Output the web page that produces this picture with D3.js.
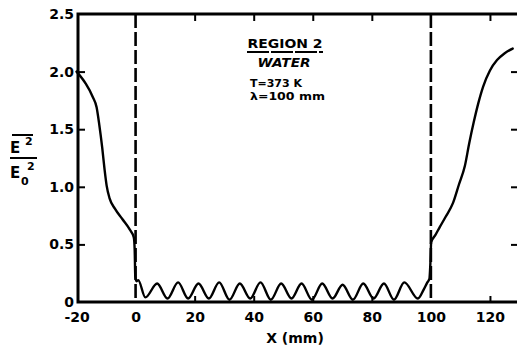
<!DOCTYPE html>
<html>
<head>
<meta charset="utf-8">
<script src="https://cdn.jsdelivr.net/npm/d3@7"></script>
<style>
  html, body { margin: 0; padding: 0; background: #fff; }
  svg { display: block; }
  text { font-family: "DejaVu Sans", sans-serif; font-weight: bold; fill: #000; }
</style>
</head>
<body>
<svg id="chart" width="517" height="348"></svg>
<script>
// Normalised field intensity |E|^2/|E0|^2 along x (mm)
const curveX = [
  -20, -17, -14.5, -13.2, -12.3, -11.3, -10.5, -9.8, -8.8, -7, -4.5, -2, -0.6,
  -0.3, -0.1, 0.3, 0.9, 3.3,
  7.3, 10.8, 14.4, 17.8, 21.3, 24.8, 28.3, 31.8, 35.3, 38.8, 42.3, 45.8, 49.3, 52.8, 56.2, 59.7,
  63.2, 66.7, 70.1, 73.6, 77.1, 80.6, 84.1, 87.5, 91.0, 95.6,
  97.6, 98.8, 99.5, 99.8, 100.1, 101.5, 103, 105, 107.5, 109.5, 111.5, 113, 114.5, 116, 117.7,
  120, 122.4, 125, 127.7
];
const curveY = [
  2.00, 1.90, 1.78, 1.69, 1.54, 1.34, 1.15, 1.01, 0.90, 0.81, 0.72, 0.63, 0.56,
  0.45, 0.22, 0.18, 0.19, 0.04,
  0.16, 0.03, 0.17, 0.03, 0.16, 0.03, 0.17, 0.02, 0.16, 0.03, 0.17, 0.02, 0.16, 0.03, 0.16, 0.02,
  0.16, 0.03, 0.15, 0.02, 0.16, 0.03, 0.16, 0.02, 0.17, 0.03,
  0.11, 0.17, 0.20, 0.32, 0.52, 0.58, 0.65, 0.74, 0.86, 1.02, 1.18, 1.38, 1.56, 1.72, 1.87,
  2.01, 2.10, 2.16, 2.20
];
const boundaries = [0, 100];                 // dashed interfaces
const xTickValues = [-20, 0, 20, 40, 60, 80, 100, 120];
const xTickMarks = [20, 40, 60, 80, 120];
const yTickValues = [0, 0.5, 1.0, 1.5, 2.0, 2.5];
const yTickLabels = ["0", "0.5", "1.0", "1.5", "2.0", "2.5"];
const yTickMarks = [0.5, 1.0, 1.5, 2.0];
const annotation = { title: "REGION 2", medium: "WATER", temp: "T=373 K", wave: "λ=100 mm" };

const svg = d3.select("#chart");
const plotL = 78, plotR = 518, plotT = 14, plotB = 302;

const x = d3.scaleLinear().domain([-19.5, 129.5]).range([plotL, plotR]);
const y = d3.scaleLinear().domain([0, 2.5]).range([plotB, plotT]);

const ink = "#000";

// tick labels (no marks)
const xLabels = svg.append("g")
  .attr("transform", `translate(0,${plotB})`)
  .call(d3.axisBottom(x).tickValues(xTickValues).tickSize(0).tickPadding(10)
    .tickFormat(d => d));
xLabels.select(".domain").remove();
xLabels.selectAll("text").attr("font-size", 14).attr("font-family", null);

const yLabels = svg.append("g")
  .attr("transform", `translate(${plotL - 4},0)`)
  .call(d3.axisLeft(y).tickValues(yTickValues).tickSize(0).tickPadding(0)
    .tickFormat((d, i) => yTickLabels[i]));
yLabels.select(".domain").remove();
yLabels.selectAll("text").attr("font-size", 14).attr("font-family", null);

// inward tick marks on all four sides
const markStyle = g => { g.select(".domain").remove(); g.selectAll("line").attr("stroke", ink).attr("stroke-width", 2); };
svg.append("g").attr("transform", `translate(0,${plotB})`)
  .call(d3.axisBottom(x).tickValues(xTickMarks).tickSizeInner(-6).tickSizeOuter(0).tickFormat(""))
  .call(markStyle);
svg.append("g").attr("transform", `translate(0,${plotT})`)
  .call(d3.axisTop(x).tickValues(xTickMarks).tickSizeInner(-7).tickSizeOuter(0).tickFormat(""))
  .call(markStyle);
svg.append("g").attr("transform", `translate(${plotL},0)`)
  .call(d3.axisLeft(y).tickValues(yTickMarks).tickSizeInner(-7).tickSizeOuter(0).tickFormat(""))
  .call(markStyle);
svg.append("g").attr("transform", `translate(${plotR},0)`)
  .call(d3.axisRight(y).tickValues(yTickMarks).tickSizeInner(-7).tickSizeOuter(0).tickFormat(""))
  .call(markStyle);

// frame
svg.append("path")
  .attr("d", `M${plotR},${plotT}H${plotL}V${plotB}H${plotR}`)
  .attr("fill", "none").attr("stroke", ink).attr("stroke-width", 3);

// interfaces
svg.selectAll("line.boundary").data(boundaries).join("line")
  .attr("class", "boundary")
  .attr("x1", d => x(d)).attr("x2", d => x(d))
  .attr("y1", plotT).attr("y2", plotB)
  .attr("stroke", ink).attr("stroke-width", 2.6)
  .attr("stroke-dasharray", "14,4");

// field curve
const pts = curveX.map((v, i) => [v, curveY[i]]);
svg.append("path")
  .datum(pts)
  .attr("fill", "none").attr("stroke", ink).attr("stroke-width", 2.4)
  .attr("stroke-linejoin", "round").attr("stroke-linecap", "round")
  .attr("d", d3.line().x(d => x(d[0])).y(d => y(d[1])).curve(d3.curveMonotoneX));

// axis title
svg.append("text").attr("x", 295).attr("y", 343).attr("text-anchor", "middle")
  .attr("font-size", 14).text("X (mm)");

// y-axis quantity, drawn as a stacked fraction
const yq = svg.append("g");
yq.append("line").attr("x1", 12).attr("x2", 33).attr("y1", 135).attr("y2", 135)
  .attr("stroke", ink).attr("stroke-width", 2);
yq.append("text").attr("x", 10).attr("y", 153).attr("font-size", 15).text("E");
yq.append("text").attr("x", 25).attr("y", 145).attr("font-size", 11).text("2");
yq.append("line").attr("x1", 10).attr("x2", 37).attr("y1", 158).attr("y2", 158)
  .attr("stroke", ink).attr("stroke-width", 2);
yq.append("text").attr("x", 10).attr("y", 178).attr("font-size", 15).text("E");
yq.append("text").attr("x", 27).attr("y", 170).attr("font-size", 11).text("2");
yq.append("text").attr("x", 21).attr("y", 185).attr("font-size", 11).text("0");

// region annotation
const ann = svg.append("g");
ann.append("text").attr("x", 285).attr("y", 48).attr("text-anchor", "middle")
  .attr("font-size", 13).attr("textLength", 75).attr("lengthAdjust", "spacingAndGlyphs")
  .text(annotation.title);
ann.append("line").attr("x1", 247).attr("x2", 323).attr("y1", 52).attr("y2", 52)
  .attr("stroke", ink).attr("stroke-width", 2).attr("stroke-dasharray", "22,2");
ann.append("text").attr("x", 284).attr("y", 67).attr("text-anchor", "middle")
  .attr("font-size", 13).attr("font-style", "italic")
  .attr("textLength", 53).attr("lengthAdjust", "spacingAndGlyphs").text(annotation.medium);
ann.append("text").attr("x", 250).attr("y", 87)
  .attr("font-size", 11).attr("textLength", 52).attr("lengthAdjust", "spacingAndGlyphs")
  .text(annotation.temp);
ann.append("text").attr("x", 250).attr("y", 100)
  .attr("font-size", 11).attr("textLength", 75).attr("lengthAdjust", "spacingAndGlyphs")
  .text(annotation.wave);
</script>
</body>
</html>
